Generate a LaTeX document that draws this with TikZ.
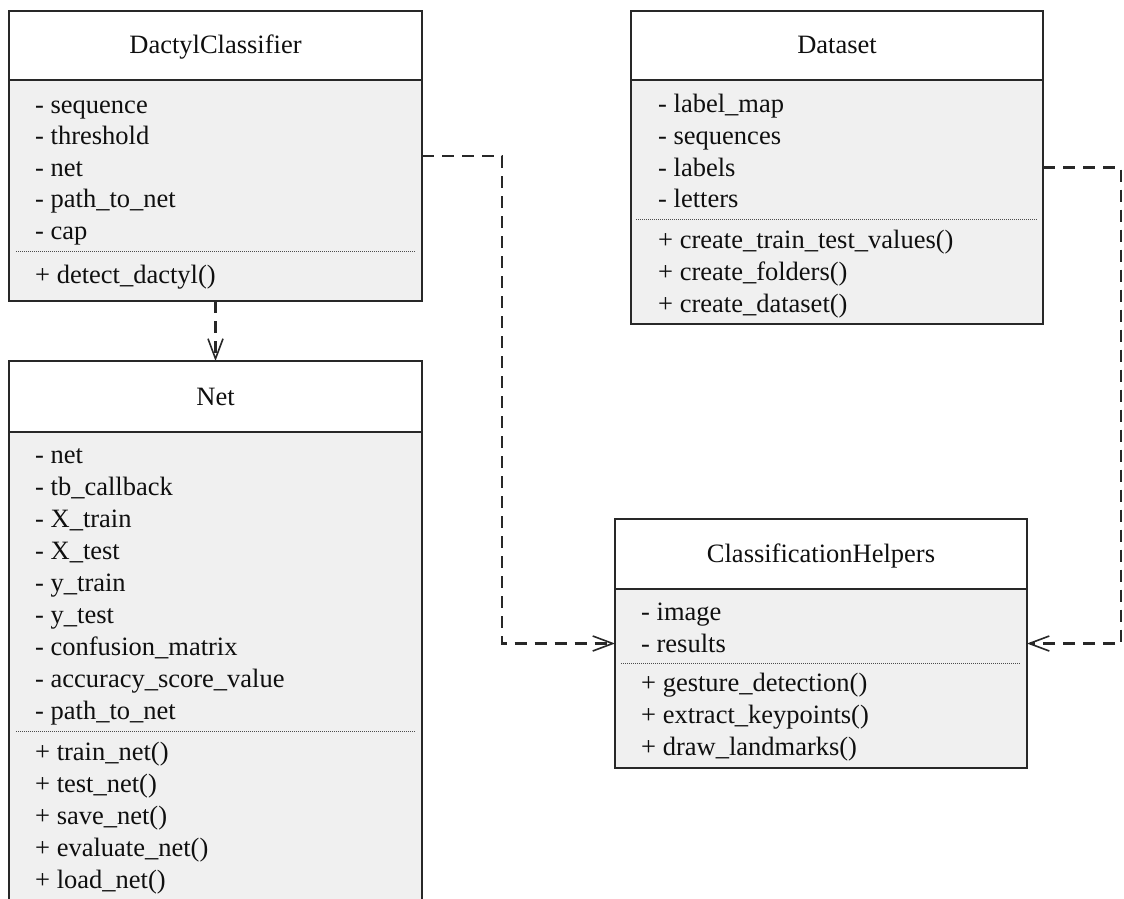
\documentclass[tikz,border=0pt]{standalone}
\usepackage{fontspec}
\setmainfont{Liberation Serif}[Ligatures=NoCommon]
\usetikzlibrary{arrows.meta}
\definecolor{compfill}{RGB}{240,240,240}
\definecolor{edge}{RGB}{40,40,40}
\definecolor{ink}{RGB}{15,15,15}

\begin{document}
\begin{tikzpicture}[x=1pt,y=-1pt,
  classbox/.style={draw=none, fill=white, inner sep=0pt, outer sep=0pt, anchor=north west},
  frame/.style={draw=edge, line width=1.6pt},
  titlerule/.style={draw=edge, line width=2.2pt},
  seprule/.style={draw=black!70, line width=0.9pt, dash pattern=on 1pt off 1pt},
  ctitle/.style={anchor=base, inner sep=0pt, font=\fontsize{26.5}{30}\selectfont, text=ink},
  member/.style={anchor=base west, inner sep=0pt, font=\fontsize{26.5}{30}\selectfont, text=ink},
  dep/.style={draw=edge, line width=2.3pt, dash pattern=on 12pt off 8pt,
    -{Straight Barb[length=20pt,width=15pt,line width=1.6pt]}},
]
\useasboundingbox (0,0) rectangle (1124,899);
\clip (0,0) rectangle (1124,899);
\fill[white] (0,0) rectangle (1124,899);

% ---- class boxes ----
\node[classbox, minimum width=413pt, minimum height=290pt] (dc) at (9,11) {};
\node[classbox, minimum width=413pt, minimum height=580pt] (net) at (9,361) {};
\node[classbox, minimum width=412pt, minimum height=313pt] (ds) at (631,11) {};
\node[classbox, minimum width=412pt, minimum height=249pt] (ch) at (615,519) {};

% attribute/operation compartments
\fill[compfill] ([yshift=-69pt]dc.north west) rectangle (dc.south east);
\fill[compfill] ([yshift=-71pt]net.north west) rectangle (net.south east);
\fill[compfill] ([yshift=-69pt]ds.north west) rectangle (ds.south east);
\fill[compfill] ([yshift=-70pt]ch.north west) rectangle (ch.south east);

\draw[titlerule] ([yshift=-69pt]dc.north west) -- ([yshift=-69pt]dc.north east);
\draw[titlerule] ([yshift=-71pt]net.north west) -- ([yshift=-71pt]net.north east);
\draw[titlerule] ([yshift=-69pt]ds.north west) -- ([yshift=-69pt]ds.north east);
\draw[titlerule] ([yshift=-70pt]ch.north west) -- ([yshift=-70pt]ch.north east);

\draw[frame] (dc.north west) rectangle (dc.south east);
\draw[frame] (net.north west) rectangle (net.south east);
\draw[frame] (ds.north west) rectangle (ds.south east);
\draw[frame] (ch.north west) rectangle (ch.south east);

% separators between attributes and operations
\draw[seprule] (16,251) -- (415,251);
\draw[seprule] (16,731) -- (415,731);
\draw[seprule] (636,219) -- (1037,219);
\draw[seprule] (621,663) -- (1021,663);

% ---- DactylClassifier ----
\node[ctitle] (dc-t) at (215.5,54) {DactylClassifier};
\node[member] (dc-a1) at (35,113) {- sequence};
\node[member] (dc-a2) at (35,144.5) {- threshold};
\node[member] (dc-a3) at (35,176) {- net};
\node[member] (dc-a4) at (35,207.5) {- path\_to\_net};
\node[member] (dc-a5) at (35,239) {- cap};
\node[member] (dc-m1) at (35,283) {+ detect\_dactyl()};

% ---- Net ----
\node[ctitle] (net-t) at (215.5,405) {Net};
\node[member] (net-a1) at (35,463) {- net};
\node[member] (net-a2) at (35,495) {- tb\_callback};
\node[member] (net-a3) at (35,527) {- X\_train};
\node[member] (net-a4) at (35,559) {- X\_test};
\node[member] (net-a5) at (35,591) {- y\_train};
\node[member] (net-a6) at (35,623) {- y\_test};
\node[member] (net-a7) at (35,655) {- confusion\_matrix};
\node[member] (net-a8) at (35,687) {- accuracy\_score\_value};
\node[member] (net-a9) at (35,719) {- path\_to\_net};
\node[member] (net-m1) at (35,760) {+ train\_net()};
\node[member] (net-m2) at (35,792) {+ test\_net()};
\node[member] (net-m3) at (35,824) {+ save\_net()};
\node[member] (net-m4) at (35,856) {+ evaluate\_net()};
\node[member] (net-m5) at (35,888) {+ load\_net()};

% ---- Dataset ----
\node[ctitle] (ds-t) at (837,54) {Dataset};
\node[member] (ds-a1) at (658,112) {- label\_map};
\node[member] (ds-a2) at (658,144) {- sequences};
\node[member] (ds-a3) at (658,176) {- labels};
\node[member] (ds-a4) at (658,207) {- letters};
\node[member] (ds-m1) at (658,248) {+ create\_train\_test\_values()};
\node[member] (ds-m2) at (658,280) {+ create\_folders()};
\node[member] (ds-m3) at (658,312) {+ create\_dataset()};

% ---- ClassificationHelpers ----
\node[ctitle] (ch-t) at (821,562) {ClassificationHelpers};
\node[member] (ch-a1) at (641,620) {- image};
\node[member] (ch-a2) at (641,652) {- results};
\node[member] (ch-m1) at (641,691) {+ gesture\_detection()};
\node[member] (ch-m2) at (641,723) {+ extract\_keypoints()};
\node[member] (ch-m3) at (641,755) {+ draw\_landmarks()};

% ---- dependencies ----
\coordinate (bendL) at (502,400);
\coordinate (bendR) at (1121,400);
\draw[dep] (dc.south) -- (net.north);
\draw[dep] (dc.east) -| (bendL) |- (ch.west);
\draw[dep] (ds.east) -| (bendR) |- (ch.east);
\end{tikzpicture}
\end{document}
